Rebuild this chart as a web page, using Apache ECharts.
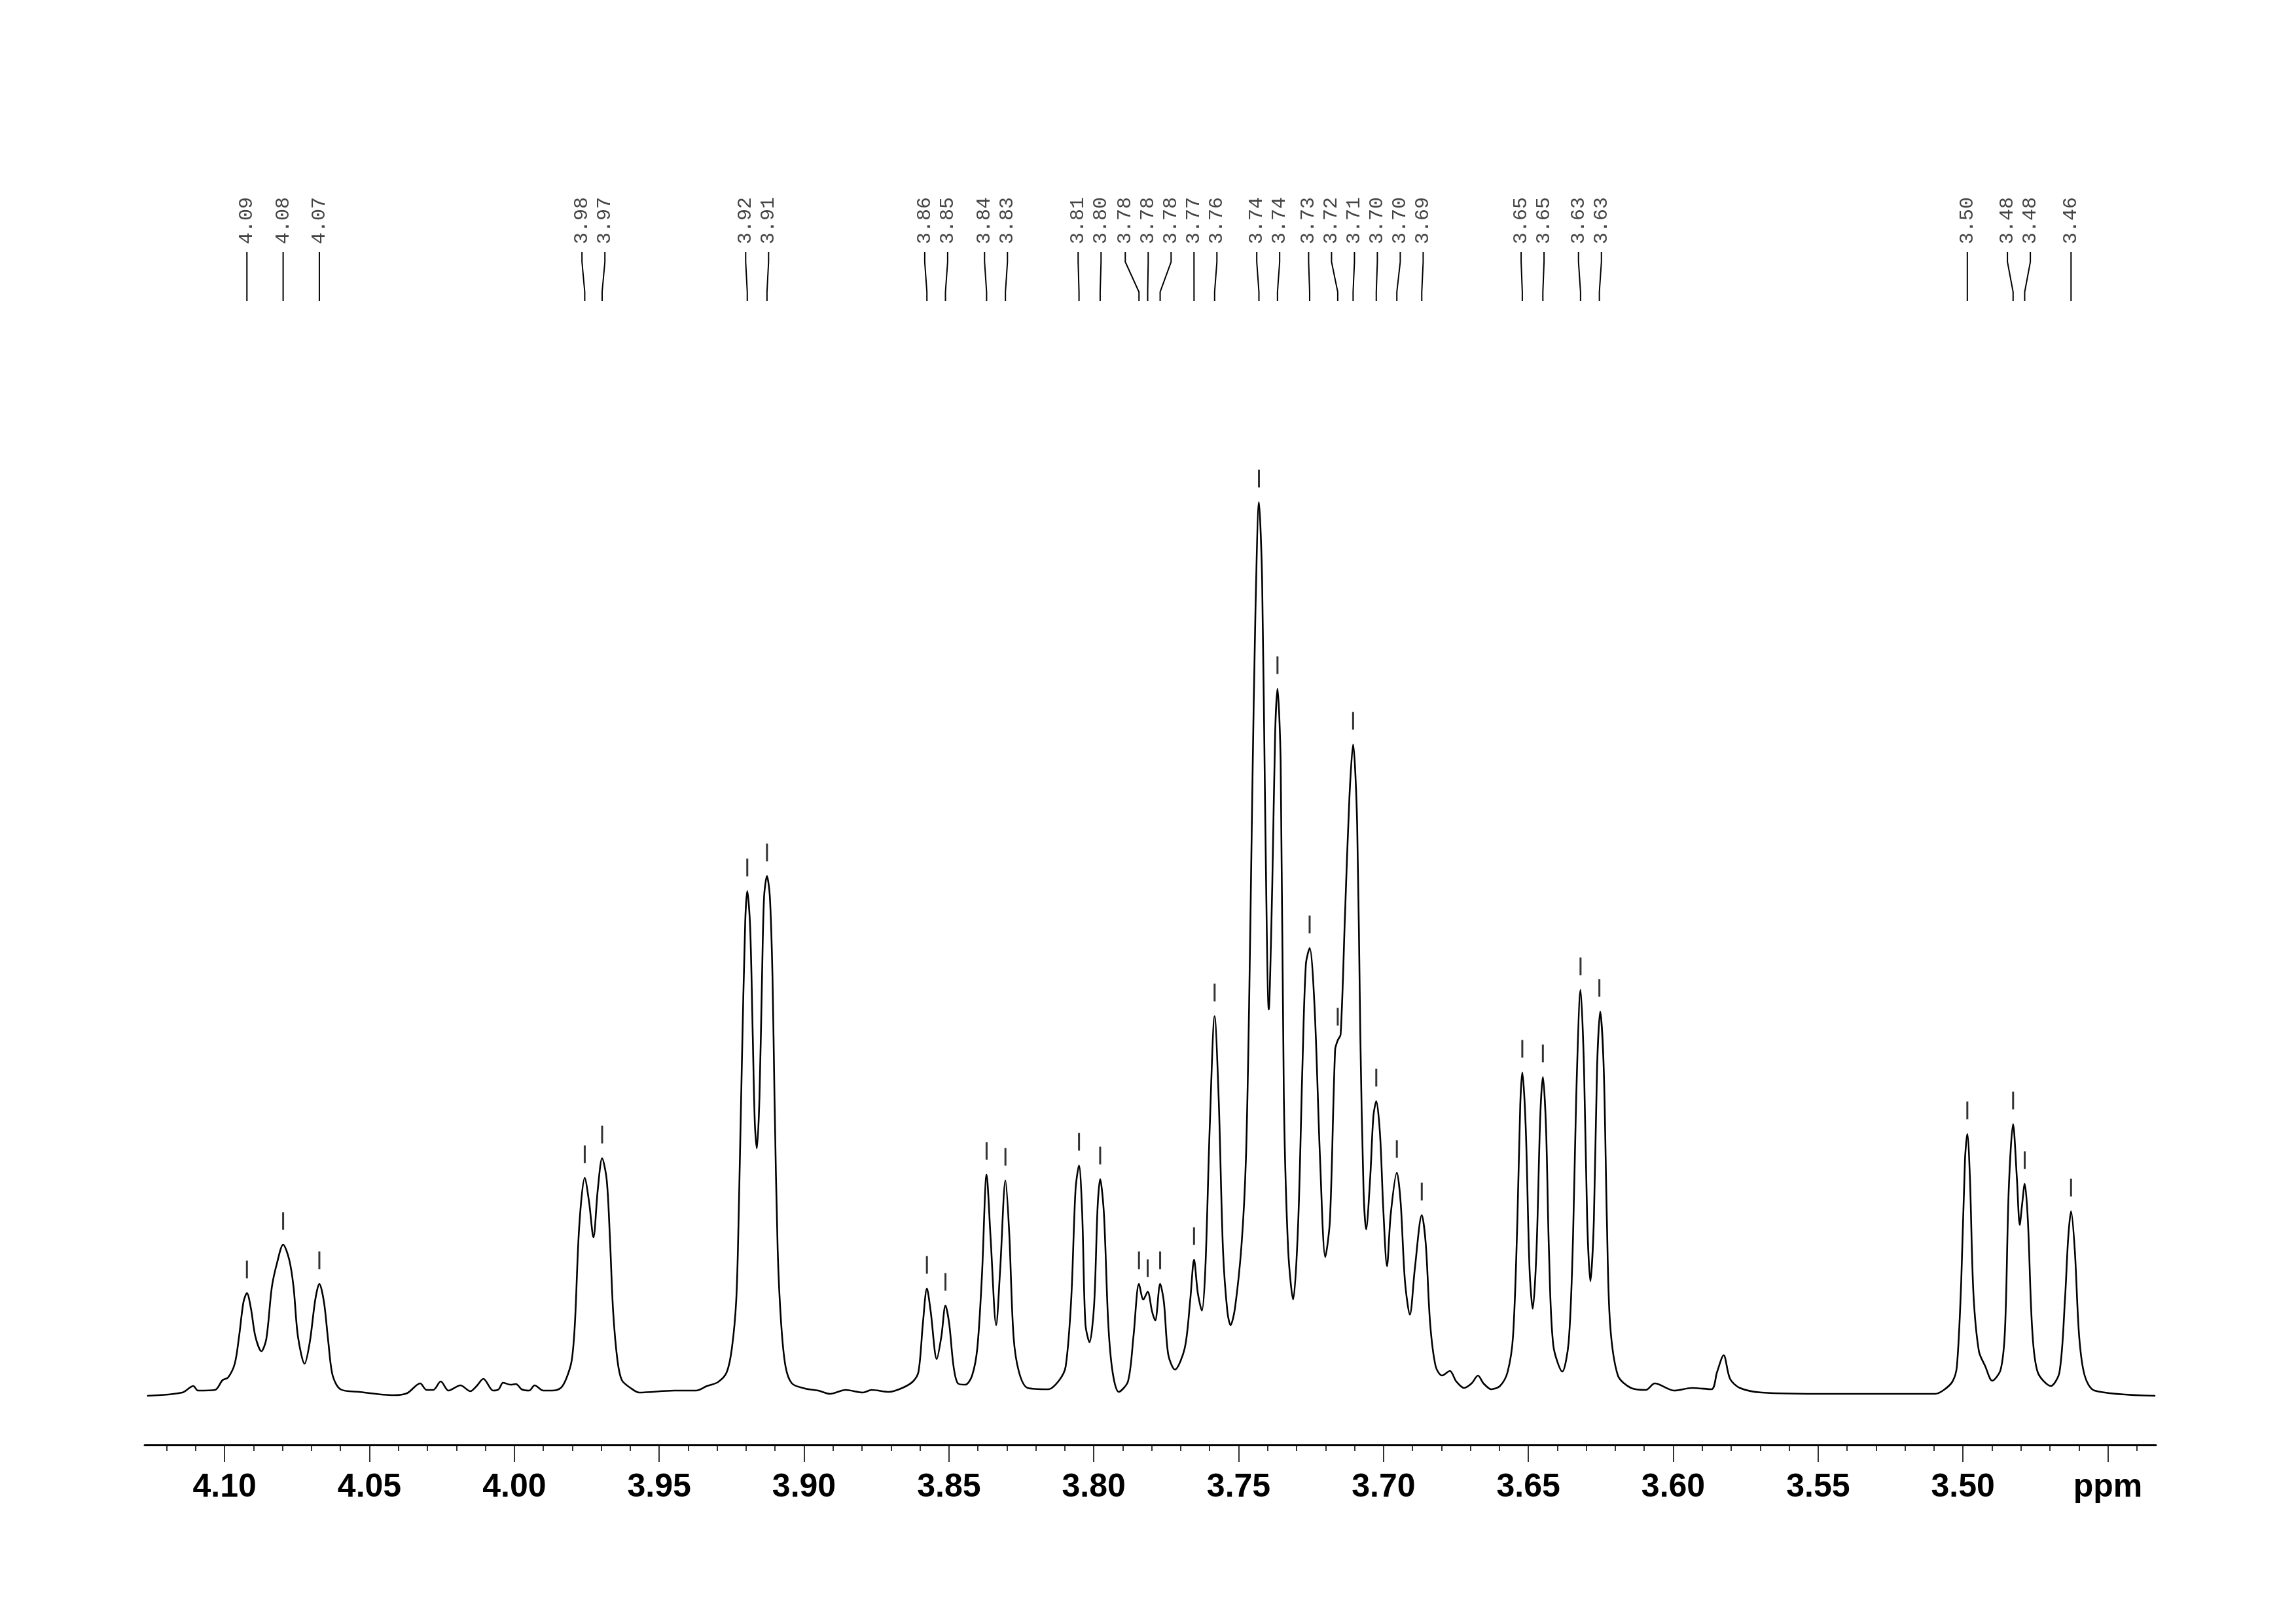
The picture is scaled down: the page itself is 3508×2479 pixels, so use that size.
<!DOCTYPE html>
<html>
<head>
<meta charset="utf-8">
<script src="https://cdn.jsdelivr.net/npm/echarts@6/dist/echarts.min.js"></script>
<style>
  html, body { margin: 0; padding: 0; background: #fff; }
  #main { width: 3508px; height: 2479px; }
</style>
</head>
<body>
<div id="main"></div>
<script>
// ---- spectrum trace (chemical shift in ppm, intensity in arbitrary units) ----
const spectrumPpm = [
  4.1267, 4.1146, 4.1108, 4.1092, 4.1033, 4.1007, 4.0988, 4.0965, 4.0950, 4.0935,
  4.0923, 4.0909, 4.0894, 4.0873, 4.0856, 4.0837, 4.0819, 4.0798, 4.0777, 4.0762,
  4.0747, 4.0724, 4.0706, 4.0687, 4.0673, 4.0657, 4.0642, 4.0627, 4.0600, 4.0536,
  4.0416, 4.0370, 4.0325, 4.0303, 4.0280, 4.0254, 4.0227, 4.0186, 4.0152, 4.0130,
  4.0107, 4.0073, 4.0054, 4.0039, 4.0013, 3.9994, 3.9975, 3.9949, 3.9930, 3.9900,
  3.9870, 3.9840, 3.9821, 3.9802, 3.9791, 3.9776, 3.9757, 3.9742, 3.9727, 3.9712,
  3.9697, 3.9681, 3.9670, 3.9659, 3.9644, 3.9629, 3.9599, 3.9569, 3.9448, 3.9373,
  3.9335, 3.9297, 3.9267, 3.9249, 3.9234, 3.9226, 3.9215, 3.9203, 3.9196, 3.9186,
  3.9177, 3.9170, 3.9163, 3.9154, 3.9145, 3.9138, 3.9128, 3.9118, 3.9109, 3.9102,
  3.9091, 3.9079, 3.9064, 3.9042, 3.8996, 3.8951, 3.8910, 3.8857, 3.8797, 3.8767,
  3.8707, 3.8661, 3.8624, 3.8605, 3.8590, 3.8576, 3.8563, 3.8542, 3.8526, 3.8512,
  3.8499, 3.8484, 3.8469, 3.8443, 3.8420, 3.8402, 3.8386, 3.8370, 3.8356, 3.8337,
  3.8323, 3.8305, 3.8292, 3.8277, 3.8258, 3.8228, 3.8157, 3.8119, 3.8097, 3.8078,
  3.8063, 3.8051, 3.8040, 3.8029, 3.8015, 3.7999, 3.7987, 3.7978, 3.7965, 3.7950,
  3.7935, 3.7914, 3.7882, 3.7863, 3.7844, 3.7829, 3.7814, 3.7799, 3.7788, 3.7771,
  3.7758, 3.7743, 3.7720, 3.7686, 3.7667, 3.7654, 3.7641, 3.7627, 3.7615, 3.7600,
  3.7583, 3.7569, 3.7554, 3.7539, 3.7528, 3.7513, 3.7490, 3.7475, 3.7464, 3.7453,
  3.7442, 3.7430, 3.7419, 3.7408, 3.7396, 3.7384, 3.7374, 3.7366, 3.7355, 3.7344,
  3.7329, 3.7312, 3.7295, 3.7280, 3.7268, 3.7255, 3.7238, 3.7219, 3.7201, 3.7185,
  3.7167, 3.7158, 3.7148, 3.7133, 3.7118, 3.7105, 3.7091, 3.7080, 3.7069, 3.7060,
  3.7046, 3.7035, 3.7025, 3.7012, 3.7001, 3.6988, 3.6975, 3.6954, 3.6941, 3.6926,
  3.6909, 3.6892, 3.6868, 3.6854, 3.6839, 3.6820, 3.6798, 3.6771, 3.6749, 3.6722,
  3.6696, 3.6674, 3.6655, 3.6628, 3.6598, 3.6572, 3.6553, 3.6538, 3.6528, 3.6521,
  3.6509, 3.6496, 3.6485, 3.6472, 3.6459, 3.6450, 3.6439, 3.6429, 3.6414, 3.6383,
  3.6361, 3.6346, 3.6335, 3.6320, 3.6308, 3.6297, 3.6286, 3.6274, 3.6263, 3.6252,
  3.6240, 3.6229, 3.6218, 3.6191, 3.6146, 3.6094, 3.6064, 3.5996, 3.5936, 3.5868,
  3.5849, 3.5826, 3.5804, 3.5770, 3.5694, 3.5461, 3.5096, 3.5066, 3.5036, 3.5021,
  3.5006, 3.4993, 3.4985, 3.4976, 3.4964, 3.4945, 3.4923, 3.4899, 3.4870, 3.4855,
  3.4842, 3.4827, 3.4814, 3.4804, 3.4796, 3.4787, 3.4776, 3.4761, 3.4742, 3.4697,
  3.4667, 3.4648, 3.4637, 3.4627, 3.4614, 3.4599, 3.4580, 3.4546, 3.4336
];
const spectrumIntensity = [
  -2, 3, 13, 6, 7, 22, 26, 47, 89, 141,
  155, 131, 89, 66, 85, 164, 201, 229, 206, 164,
  89, 47, 80, 145, 169, 141, 80, 29, 8, 4,
  -1, 2, 17, 7, 7, 20, 6, 14, 5, 13,
  24, 6, 8, 18, 15, 16, 8, 6, 14, 6,
  6, 10, 24, 52, 108, 257, 331, 294, 240, 313,
  361, 327, 238, 127, 52, 22, 10, 3, 6, 6,
  13, 19, 34, 71, 145, 266, 499, 723, 769, 713,
  546, 415, 376, 453, 639, 760, 792, 760, 639, 453,
  220, 108, 43, 17, 9, 6, 1, 7, 3, 7,
  4, 10, 20, 35, 108, 162, 127, 54, 89, 136,
  108, 43, 17, 15, 29, 71, 182, 336, 238, 106,
  192, 327, 248, 89, 34, 10, 8, 22, 43, 145,
  313, 350, 276, 108, 80, 136, 285, 329, 276, 108,
  34, 4, 20, 89, 169, 145, 157, 127, 113, 169,
  141, 61, 38, 71, 145, 206, 155, 128, 192, 406,
  578, 453, 220, 127, 106, 131, 229, 359, 592, 918,
  1197, 1363, 1244, 872, 588, 778, 1011, 1078, 965, 453,
  220, 145, 257, 499, 657, 682, 592, 359, 210, 266,
  527, 541, 550, 732, 909, 993, 872, 546, 313, 252,
  331, 425, 448, 397, 285, 196, 276, 339, 294, 173,
  122, 192, 274, 229, 108, 43, 29, 36, 20, 10,
  17, 29, 17, 8, 13, 34, 89, 266, 443, 492,
  406, 192, 131, 220, 425, 485, 406, 220, 75, 35,
  80, 238, 453, 618, 499, 266, 173, 266, 499, 585,
  499, 266, 108, 29, 10, 7, 17, 6, 10, 8,
  34, 60, 24, 10, 3, 1, 1, 7, 20, 43,
  173, 359, 398, 331, 155, 66, 43, 21, 38, 99,
  313, 413, 331, 259, 290, 322, 266, 99, 34, 13,
  34, 145, 238, 280, 220, 89, 29, 6, -2
];

// ---- picked peaks ----
const peakPpm = [
  4.0923, 4.0798, 4.0673, 3.9757, 3.9697, 3.9196, 3.9128, 3.8576, 3.8512, 3.8370,
  3.8305, 3.8051, 3.7978, 3.7844, 3.7814, 3.7771, 3.7654, 3.7583, 3.7430, 3.7366,
  3.7255, 3.7158, 3.7105, 3.7025, 3.6954, 3.6868, 3.6521, 3.6450, 3.6320, 3.6255,
  3.4985, 3.4827, 3.4787, 3.4627
];
const peakHeight = [
  155, 229, 169, 331, 361, 769, 792, 162, 136, 336,
  327, 350, 329, 169, 157, 169, 206, 578, 1363, 1078,
  682, 541, 993, 448, 339, 274, 492, 485, 618, 585,
  398, 413, 322, 280
];
const peakLabel = [
  '4.09', '4.08', '4.07', '3.98', '3.97', '3.92', '3.91', '3.86', '3.85', '3.84',
  '3.83', '3.81', '3.80', '3.78', '3.78', '3.78', '3.77', '3.76', '3.74', '3.74',
  '3.73', '3.72', '3.71', '3.70', '3.70', '3.69', '3.65', '3.65', '3.63', '3.63',
  '3.50', '3.48', '3.48', '3.46'
];

// ---- axis ticks ----
const majorTicks = [4.10, 4.05, 4.00, 3.95, 3.90, 3.85, 3.80, 3.75, 3.70, 3.65, 3.60, 3.55, 3.50, 3.45];
const majorTickLabels = ['4.10', '4.05', '4.00', '3.95', '3.90', '3.85', '3.80', '3.75', '3.70', '3.65', '3.60', '3.55', '3.50', 'ppm'];
const minorTicks = [
  4.12, 4.11, 4.09, 4.08, 4.07, 4.06, 4.04, 4.03, 4.02, 4.01,
  3.99, 3.98, 3.97, 3.96, 3.94, 3.93, 3.92, 3.91, 3.89, 3.88,
  3.87, 3.86, 3.84, 3.83, 3.82, 3.81, 3.79, 3.78, 3.77, 3.76,
  3.74, 3.73, 3.72, 3.71, 3.69, 3.68, 3.67, 3.66, 3.64, 3.63,
  3.62, 3.61, 3.59, 3.58, 3.57, 3.56, 3.54, 3.53, 3.52, 3.51,
  3.49, 3.48, 3.47, 3.46, 3.44
];

const X_MIN = 3.4334, X_MAX = 4.1276;

const spectrum = spectrumPpm.map((p, i) => [p, spectrumIntensity[i]]);
const peaks = peakPpm.map((p, i) => [p, peakHeight[i]]);

function spreadLabels(xs, d) {
  let clusters = xs.map(x => ({ n: 1, sum: x }));
  let changed = true;
  while (changed) {
    changed = false;
    for (let k = 0; k < clusters.length - 1; k++) {
      const a = clusters[k], b = clusters[k + 1];
      const aEnd = a.sum / a.n + (a.n - 1) * d / 2;
      const bStart = b.sum / b.n - (b.n - 1) * d / 2;
      if (bStart - aEnd < d) {
        clusters.splice(k, 2, { n: a.n + b.n, sum: a.sum + b.sum });
        changed = true;
        break;
      }
    }
  }
  const out = [];
  clusters.forEach(c => {
    const c0 = c.sum / c.n - (c.n - 1) * d / 2;
    for (let j = 0; j < c.n; j++) out.push(c0 + j * d);
  });
  return out;
}

const chart = echarts.init(document.getElementById('main'), null, { renderer: 'canvas' });
const labelFont = 'Liberation Sans, Arial, sans-serif';

chart.setOption({
  animation: false,
  backgroundColor: '#ffffff',
  grid: { left: 221, right: 214, top: 400, bottom: 272, containLabel: false },
  xAxis: [
    {
      type: 'value', inverse: true, min: X_MIN, max: X_MAX, position: 'bottom',
      axisLine: { show: true, onZero: false, lineStyle: { color: '#000', width: 3 } },
      axisTick: { show: true, customValues: majorTicks, length: 26, lineStyle: { color: '#000', width: 1.6 } },
      axisLabel: {
        show: true, customValues: majorTicks, margin: 40,
        fontSize: 50, fontWeight: 'bold', fontFamily: labelFont, color: '#000',
        formatter: function (v) {
          for (let i = 0; i < majorTicks.length; i++) {
            if (Math.abs(v - majorTicks[i]) < 1e-6) return majorTickLabels[i];
          }
          return '';
        }
      },
      splitLine: { show: false }
    },
    {
      type: 'value', inverse: true, min: X_MIN, max: X_MAX, position: 'bottom', gridIndex: 0,
      axisLine: { show: false, onZero: false },
      axisTick: { show: true, customValues: minorTicks, length: 9, lineStyle: { color: '#000', width: 1.6 } },
      axisLabel: { show: false },
      splitLine: { show: false }
    }
  ],
  yAxis: { type: 'value', min: -77, max: 1730, show: false, splitLine: { show: false } },
  series: [
    {
      type: 'line', xAxisIndex: 0, data: spectrum, showSymbol: false, smooth: 0.3,
      lineStyle: { color: '#000', width: 2.6 }, silent: true, clip: false
    },
    {
      type: 'scatter', xAxisIndex: 0, data: peaks, symbol: 'rect', symbolSize: [3, 27],
      symbolOffset: [0, -36], itemStyle: { color: '#000' }, silent: true
    },
    {
      type: 'custom', xAxisIndex: 0, data: [[3.8, 0]], clip: false, silent: true,
      renderItem: function (params, api) {
        const xs = peakPpm.map(p => api.coord([p, 0])[0]);
        const lx = spreadLabels(xs, 35);
        const children = [];
        for (let i = 0; i < xs.length; i++) {
          children.push({
            type: 'polyline',
            shape: { points: [[lx[i], 385], [lx[i], 400], [xs[i], 446], [xs[i], 460]] },
            style: { stroke: '#000', lineWidth: 2, fill: null }
          });
          children.push({
            type: 'text', x: lx[i], y: 373, rotation: Math.PI / 2,
            style: {
              text: peakLabel[i], fontSize: 30, fontFamily: 'Liberation Mono, Courier New, monospace',
              fill: '#444', align: 'left', verticalAlign: 'middle'
            }
          });
        }
        return { type: 'group', children: children };
      }
    }
  ]
});
</script>
</body>
</html>
